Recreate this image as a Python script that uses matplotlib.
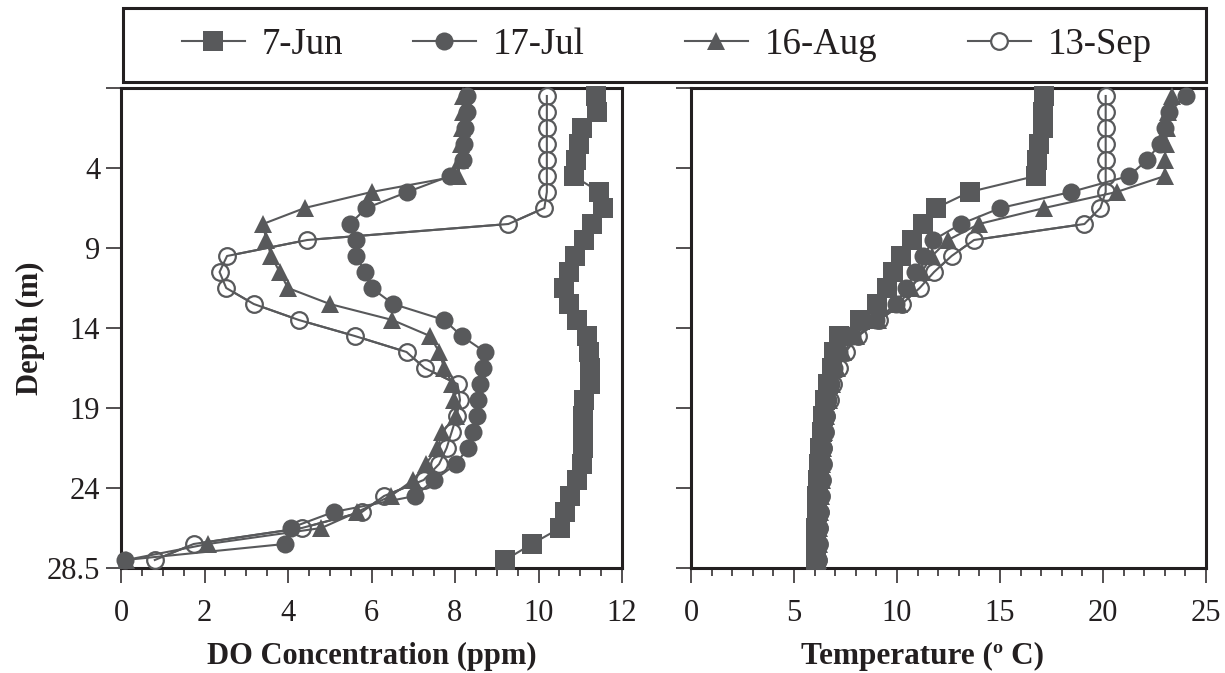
import matplotlib
matplotlib.use('Agg')
import matplotlib.pyplot as plt
from matplotlib.ticker import MultipleLocator, FixedLocator, FixedFormatter
from matplotlib.patches import Rectangle
from matplotlib.lines import Line2D

# ---------------- data ----------------
depth = [0, 1, 2, 3, 4, 5, 6, 7, 8, 9, 10, 11, 12, 13, 14,
         15, 16, 17, 18, 19, 20, 21, 22, 23, 24, 25, 26, 27, 28, 29]
dates = ['7-Jun', '17-Jul', '16-Aug', '13-Sep']

do_jun = [11.38, 11.40, 11.05, 10.96, 10.90, 10.84, 11.46, 11.55, 11.28, 11.08,
          10.88, 10.74, 10.62, 10.72, 10.92, 11.16, 11.20, 11.24, 11.24, 11.08,
          11.06, 11.06, 11.06, 11.04, 10.92, 10.76, 10.64, 10.52, 9.84, 9.20]
do_jul = [8.28, 8.28, 8.24, 8.22, 8.20, 7.88, 6.86, 5.88, 5.48, 5.64,
          5.64, 5.84, 6.00, 6.52, 7.74, 8.16, 8.72, 8.68, 8.60, 8.56,
          8.52, 8.42, 8.30, 8.03, 7.50, 7.04, 5.09, 4.06, 3.92, 0.10]
do_aug = [8.20, 8.18, 8.16, 8.14, 8.12, 8.08, 6.00, 4.40, 3.40, 3.48,
          3.60, 3.80, 4.00, 5.00, 6.50, 7.40, 7.62, 7.74, 7.94, 7.98,
          8.02, 7.70, 7.58, 7.30, 7.00, 6.46, 5.66, 4.80, 2.08, 0.12]
do_sep = [10.20, 10.20, 10.20, 10.20, 10.20, 10.20, 10.20, 10.14, 9.28, 4.46,
          2.54, 2.36, 2.52, 3.18, 4.26, 5.60, 6.84, 7.27, 8.06, 8.12,
          8.04, 7.92, 7.80, 7.62, 7.25, 6.30, 5.77, 4.33, 1.74, 0.81]

t_jun = [17.14, 17.10, 17.07, 16.90, 16.80, 16.73, 13.52, 11.90, 11.28, 10.71,
         10.18, 9.82, 9.50, 9.01, 8.20, 7.20, 6.95, 6.83, 6.66, 6.52,
         6.43, 6.35, 6.26, 6.21, 6.18, 6.14, 6.11, 6.09, 6.07, 6.06]
t_jul = [24.05, 23.20, 23.03, 22.75, 22.15, 21.25, 18.44, 15.02, 13.10, 11.76,
         11.28, 10.87, 10.45, 9.95, 9.00, 7.80, 7.20, 6.95, 6.80, 6.65,
         6.55, 6.45, 6.40, 6.35, 6.30, 6.27, 6.24, 6.20, 6.18, 6.15]
t_aug = [23.33, 23.17, 23.10, 23.05, 23.00, 23.00, 20.66, 17.15, 13.98, 12.48,
         11.70, 11.20, 10.70, 10.10, 9.10, 8.00, 7.40, 7.10, 6.85, 6.70,
         6.55, 6.47, 6.42, 6.38, 6.34, 6.30, 6.26, 6.22, 6.20, 6.18]
t_sep = [20.13, 20.13, 20.13, 20.13, 20.13, 20.13, 20.13, 19.87, 19.10, 13.74,
         12.65, 11.80, 11.10, 10.23, 9.15, 8.12, 7.50, 7.17, 6.91, 6.74,
         6.57, 6.49, 6.43, 6.40, 6.37, 6.31, 6.28, 6.23, 6.19, 6.18]

ytick_pos = [-0.5, 4.5, 9.5, 14.5, 19.5, 24.5, 29.5]
ytick_labels = ['', '4', '9', '14', '19', '24', '28.5']

# ---------------- style ----------------
plt.rcParams['font.family'] = ['Liberation Serif', 'DejaVu Serif']
C = '#58595b'
K = '#231f20'
W, H = 1225, 673

fig = plt.figure(figsize=(W / 100, H / 100), dpi=100)
ax1 = fig.add_axes([121 / W, 105 / H, 501 / W, 480 / H])
ax2 = fig.add_axes([691 / W, 105 / H, 515 / W, 480 / H])

styles = [dict(marker='s', ms=14, mfc=C, mec=C, mew=0),
          dict(marker='o', ms=13, mfc=C, mec=C, mew=0),
          dict(marker='^', ms=13.5, mfc=C, mec=C, mew=0),
          dict(marker='o', ms=12, mfc='white', mec=C, mew=1.6)]
zorders = [6, 5, 4, 3]

for ax, series in ((ax1, [do_jun, do_jul, do_aug, do_sep]),
                   (ax2, [t_jun, t_jul, t_aug, t_sep])):
    for vals, st, z in zip(series, styles, zorders):
        ax.plot(vals, depth, color=C, lw=1.5, zorder=z, clip_on=False, **st)
    ax.plot(series[3], depth, color=C, lw=1.5, zorder=3.1)
    ax.set_ylim(29.5, -0.5)
    ax.yaxis.set_major_locator(FixedLocator(ytick_pos))
    for sp in ax.spines.values():
        sp.set_linewidth(2.2)
        sp.set_color(K)
    ax.tick_params(axis='both', which='major', direction='out', length=11,
                   width=1.1, color=K, labelsize=22, labelcolor=K, pad=4)
    ax.tick_params(axis='x', which='major', pad=11)
    ax.tick_params(axis='x', which='minor', direction='out', length=5.5,
                   width=1.1, color=K)

ax1.yaxis.set_major_formatter(FixedFormatter(ytick_labels))
ax2.yaxis.set_major_formatter(FixedFormatter([''] * len(ytick_pos)))

ax1.set_xlim(0, 12)
ax1.xaxis.set_major_locator(MultipleLocator(2))
ax1.xaxis.set_minor_locator(MultipleLocator(0.5))
ax2.set_xlim(0, 25)
ax2.xaxis.set_major_locator(MultipleLocator(5))
ax2.xaxis.set_minor_locator(MultipleLocator(1))

ax1.set_xlabel('DO Concentration (ppm)', fontsize=22, fontweight='bold', color=K)
ax1.xaxis.set_label_coords(0.5, -0.154)
ax2.set_xlabel('Temperature (º C)', fontsize=22.5, fontweight='bold', color=K)
ax2.xaxis.set_label_coords(0.449, -0.154)
ax1.set_ylabel('Depth (m)', fontsize=22, fontweight='bold', color=K)
ax1.yaxis.set_label_coords(-0.152, 0.5)

# ---------------- legend (one entry per box, placed like the reference) ----------------
legend_x = [182, 413, 685, 968]
for lab, st, x in zip(dates, styles, legend_x):
    h = Line2D([], [], color=C, lw=1.5, **st)
    fig.legend([h], [lab], loc='center left', bbox_to_anchor=(x / W, 1 - 45 / H),
               frameon=False, fontsize=26.5, handlelength=1.71, handletextpad=0.46,
               borderpad=0, borderaxespad=0, labelcolor=K)
fig.patches.append(Rectangle((123 / W, 1 - 82 / H), (1206 - 123) / W, 74 / H,
                             transform=fig.transFigure, fill=False, lw=2.2,
                             ec=K))

fig.savefig('out.png', dpi=100)
